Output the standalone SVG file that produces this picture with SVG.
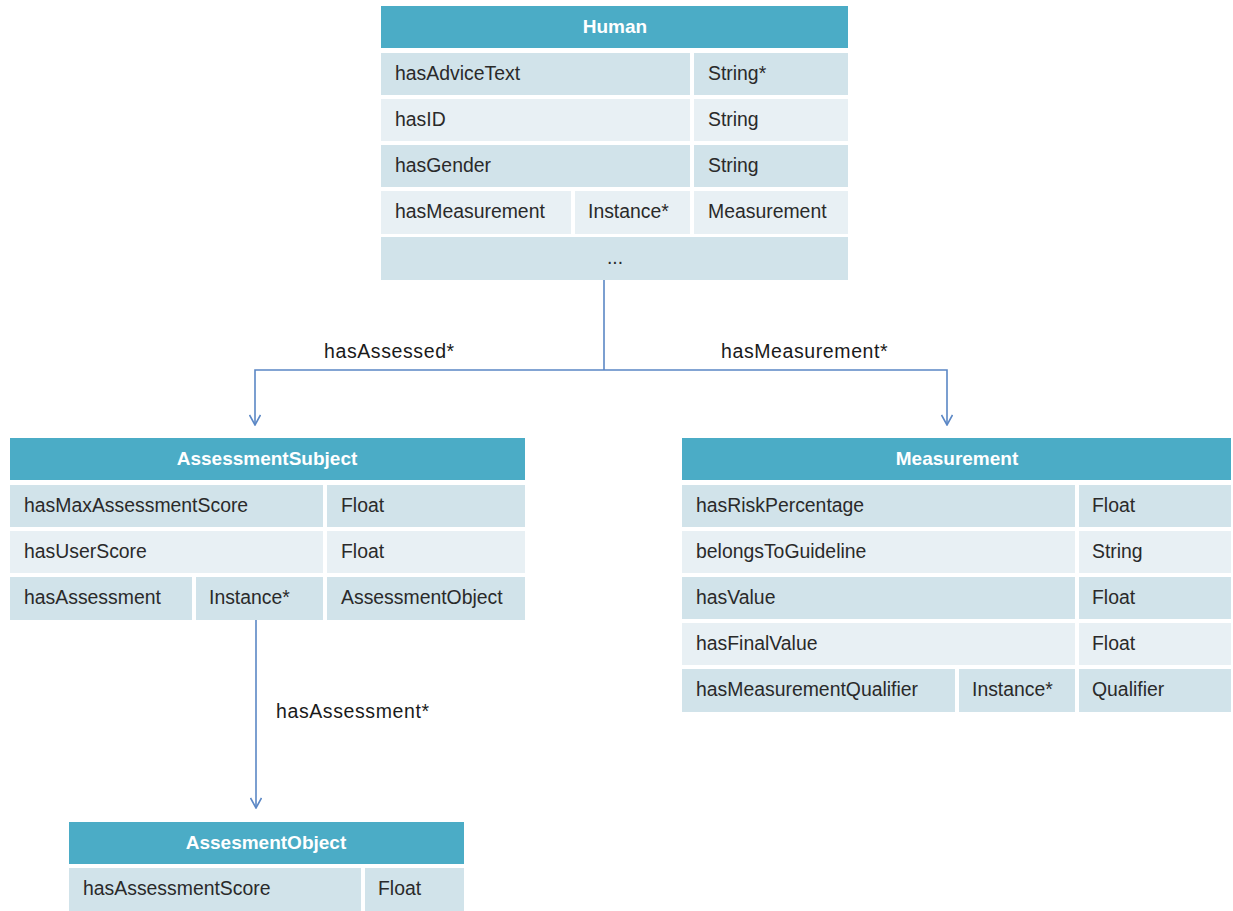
<svg xmlns="http://www.w3.org/2000/svg" width="1233" height="911" viewBox="0 0 1233 911">
<style>
.hdr{fill:#4BACC6}
.d{fill:#D1E3EA}
.l{fill:#E8F0F4}
.ht{font-family:"Liberation Sans",Arial,sans-serif;font-size:19px;font-weight:bold;fill:#fff;text-anchor:middle}
.t{font-family:"Liberation Sans",Arial,sans-serif;font-size:19.4px;fill:#2a2a2a}
.c{text-anchor:middle}
.lbl{font-family:"Liberation Sans",Arial,sans-serif;font-size:19.5px;letter-spacing:0.6px;fill:#1a1a1a}
.con{fill:none;stroke:#5B87C5;stroke-width:1.6}
</style>
<defs>
<marker id="arr" viewBox="0 0 12 12" refX="11" refY="6" markerWidth="12" markerHeight="12" markerUnits="userSpaceOnUse" orient="auto">
<path d="M1,0.5 L11,6 L1,11.5" fill="none" stroke="#5B87C5" stroke-width="1.6"/>
</marker>
</defs>
<rect width="1233" height="911" fill="#fff"/>

<g id="connectors">
<path class="con" d="M604,280 V370"/>
<path class="con" d="M604,370 H255 V425" marker-end="url(#arr)"/>
<path class="con" d="M604,370 H947 V425" marker-end="url(#arr)"/>
<path class="con" d="M256,620 V808" marker-end="url(#arr)"/>
<text class="lbl" x="324" y="358">hasAssessed*</text>
<text class="lbl" x="721" y="358">hasMeasurement*</text>
<text class="lbl" x="276" y="718">hasAssessment*</text>
</g>

<g id="Human">
<rect class="hdr" x="381" y="6" width="467" height="42"/>
<text class="ht" x="615" y="33">Human</text>
<rect class="d" x="381" y="53" width="309" height="42"/>
<rect class="d" x="694" y="53" width="154" height="42"/>
<rect class="l" x="381" y="99" width="309" height="42"/>
<rect class="l" x="694" y="99" width="154" height="42"/>
<rect class="d" x="381" y="145" width="309" height="42"/>
<rect class="d" x="694" y="145" width="154" height="42"/>
<rect class="l" x="381" y="191" width="190" height="43"/>
<rect class="l" x="575" y="191" width="115" height="43"/>
<rect class="l" x="694" y="191" width="154" height="43"/>
<rect class="d" x="381" y="237" width="467" height="43"/>
<text class="t" x="395" y="80">hasAdviceText</text>
<text class="t" x="708" y="80">String*</text>
<text class="t" x="395" y="126">hasID</text>
<text class="t" x="708" y="126">String</text>
<text class="t" x="395" y="172">hasGender</text>
<text class="t" x="708" y="172">String</text>
<text class="t" x="395" y="218">hasMeasurement</text>
<text class="t" x="588" y="218">Instance*</text>
<text class="t" x="708" y="218">Measurement</text>
<text class="t c" x="615" y="264">...</text>
</g>

<g id="AssessmentSubject">
<rect class="hdr" x="10" y="438" width="515" height="42"/>
<text class="ht" x="267" y="465">AssessmentSubject</text>
<rect class="d" x="10" y="485" width="313" height="42"/>
<rect class="d" x="327" y="485" width="198" height="42"/>
<rect class="l" x="10" y="531" width="313" height="42"/>
<rect class="l" x="327" y="531" width="198" height="42"/>
<rect class="d" x="10" y="577" width="182" height="43"/>
<rect class="d" x="196" y="577" width="127" height="43"/>
<rect class="d" x="327" y="577" width="198" height="43"/>
<text class="t" x="24" y="512">hasMaxAssessmentScore</text>
<text class="t" x="341" y="512">Float</text>
<text class="t" x="24" y="558">hasUserScore</text>
<text class="t" x="341" y="558">Float</text>
<text class="t" x="24" y="604">hasAssessment</text>
<text class="t" x="209" y="604">Instance*</text>
<text class="t" x="341" y="604">AssessmentObject</text>
</g>

<g id="Measurement">
<rect class="hdr" x="682" y="438" width="549" height="42"/>
<text class="ht" x="957" y="465">Measurement</text>
<rect class="d" x="682" y="485" width="393" height="42"/>
<rect class="d" x="1079" y="485" width="152" height="42"/>
<rect class="l" x="682" y="531" width="393" height="42"/>
<rect class="l" x="1079" y="531" width="152" height="42"/>
<rect class="d" x="682" y="577" width="393" height="42"/>
<rect class="d" x="1079" y="577" width="152" height="42"/>
<rect class="l" x="682" y="623" width="393" height="42"/>
<rect class="l" x="1079" y="623" width="152" height="42"/>
<rect class="d" x="682" y="669" width="273" height="43"/>
<rect class="d" x="959" y="669" width="116" height="43"/>
<rect class="d" x="1079" y="669" width="152" height="43"/>
<text class="t" x="696" y="512">hasRiskPercentage</text>
<text class="t" x="1092" y="512">Float</text>
<text class="t" x="696" y="558">belongsToGuideline</text>
<text class="t" x="1092" y="558">String</text>
<text class="t" x="696" y="604">hasValue</text>
<text class="t" x="1092" y="604">Float</text>
<text class="t" x="696" y="650">hasFinalValue</text>
<text class="t" x="1092" y="650">Float</text>
<text class="t" x="696" y="696">hasMeasurementQualifier</text>
<text class="t" x="972" y="696">Instance*</text>
<text class="t" x="1092" y="696">Qualifier</text>
</g>

<g id="AssesmentObject">
<rect class="hdr" x="69" y="822" width="395" height="42"/>
<text class="ht" x="266" y="849">AssesmentObject</text>
<rect class="d" x="69" y="868" width="292" height="43"/>
<rect class="d" x="365" y="868" width="99" height="43"/>
<text class="t" x="83" y="895">hasAssessmentScore</text>
<text class="t" x="378" y="895">Float</text>
</g>
</svg>
